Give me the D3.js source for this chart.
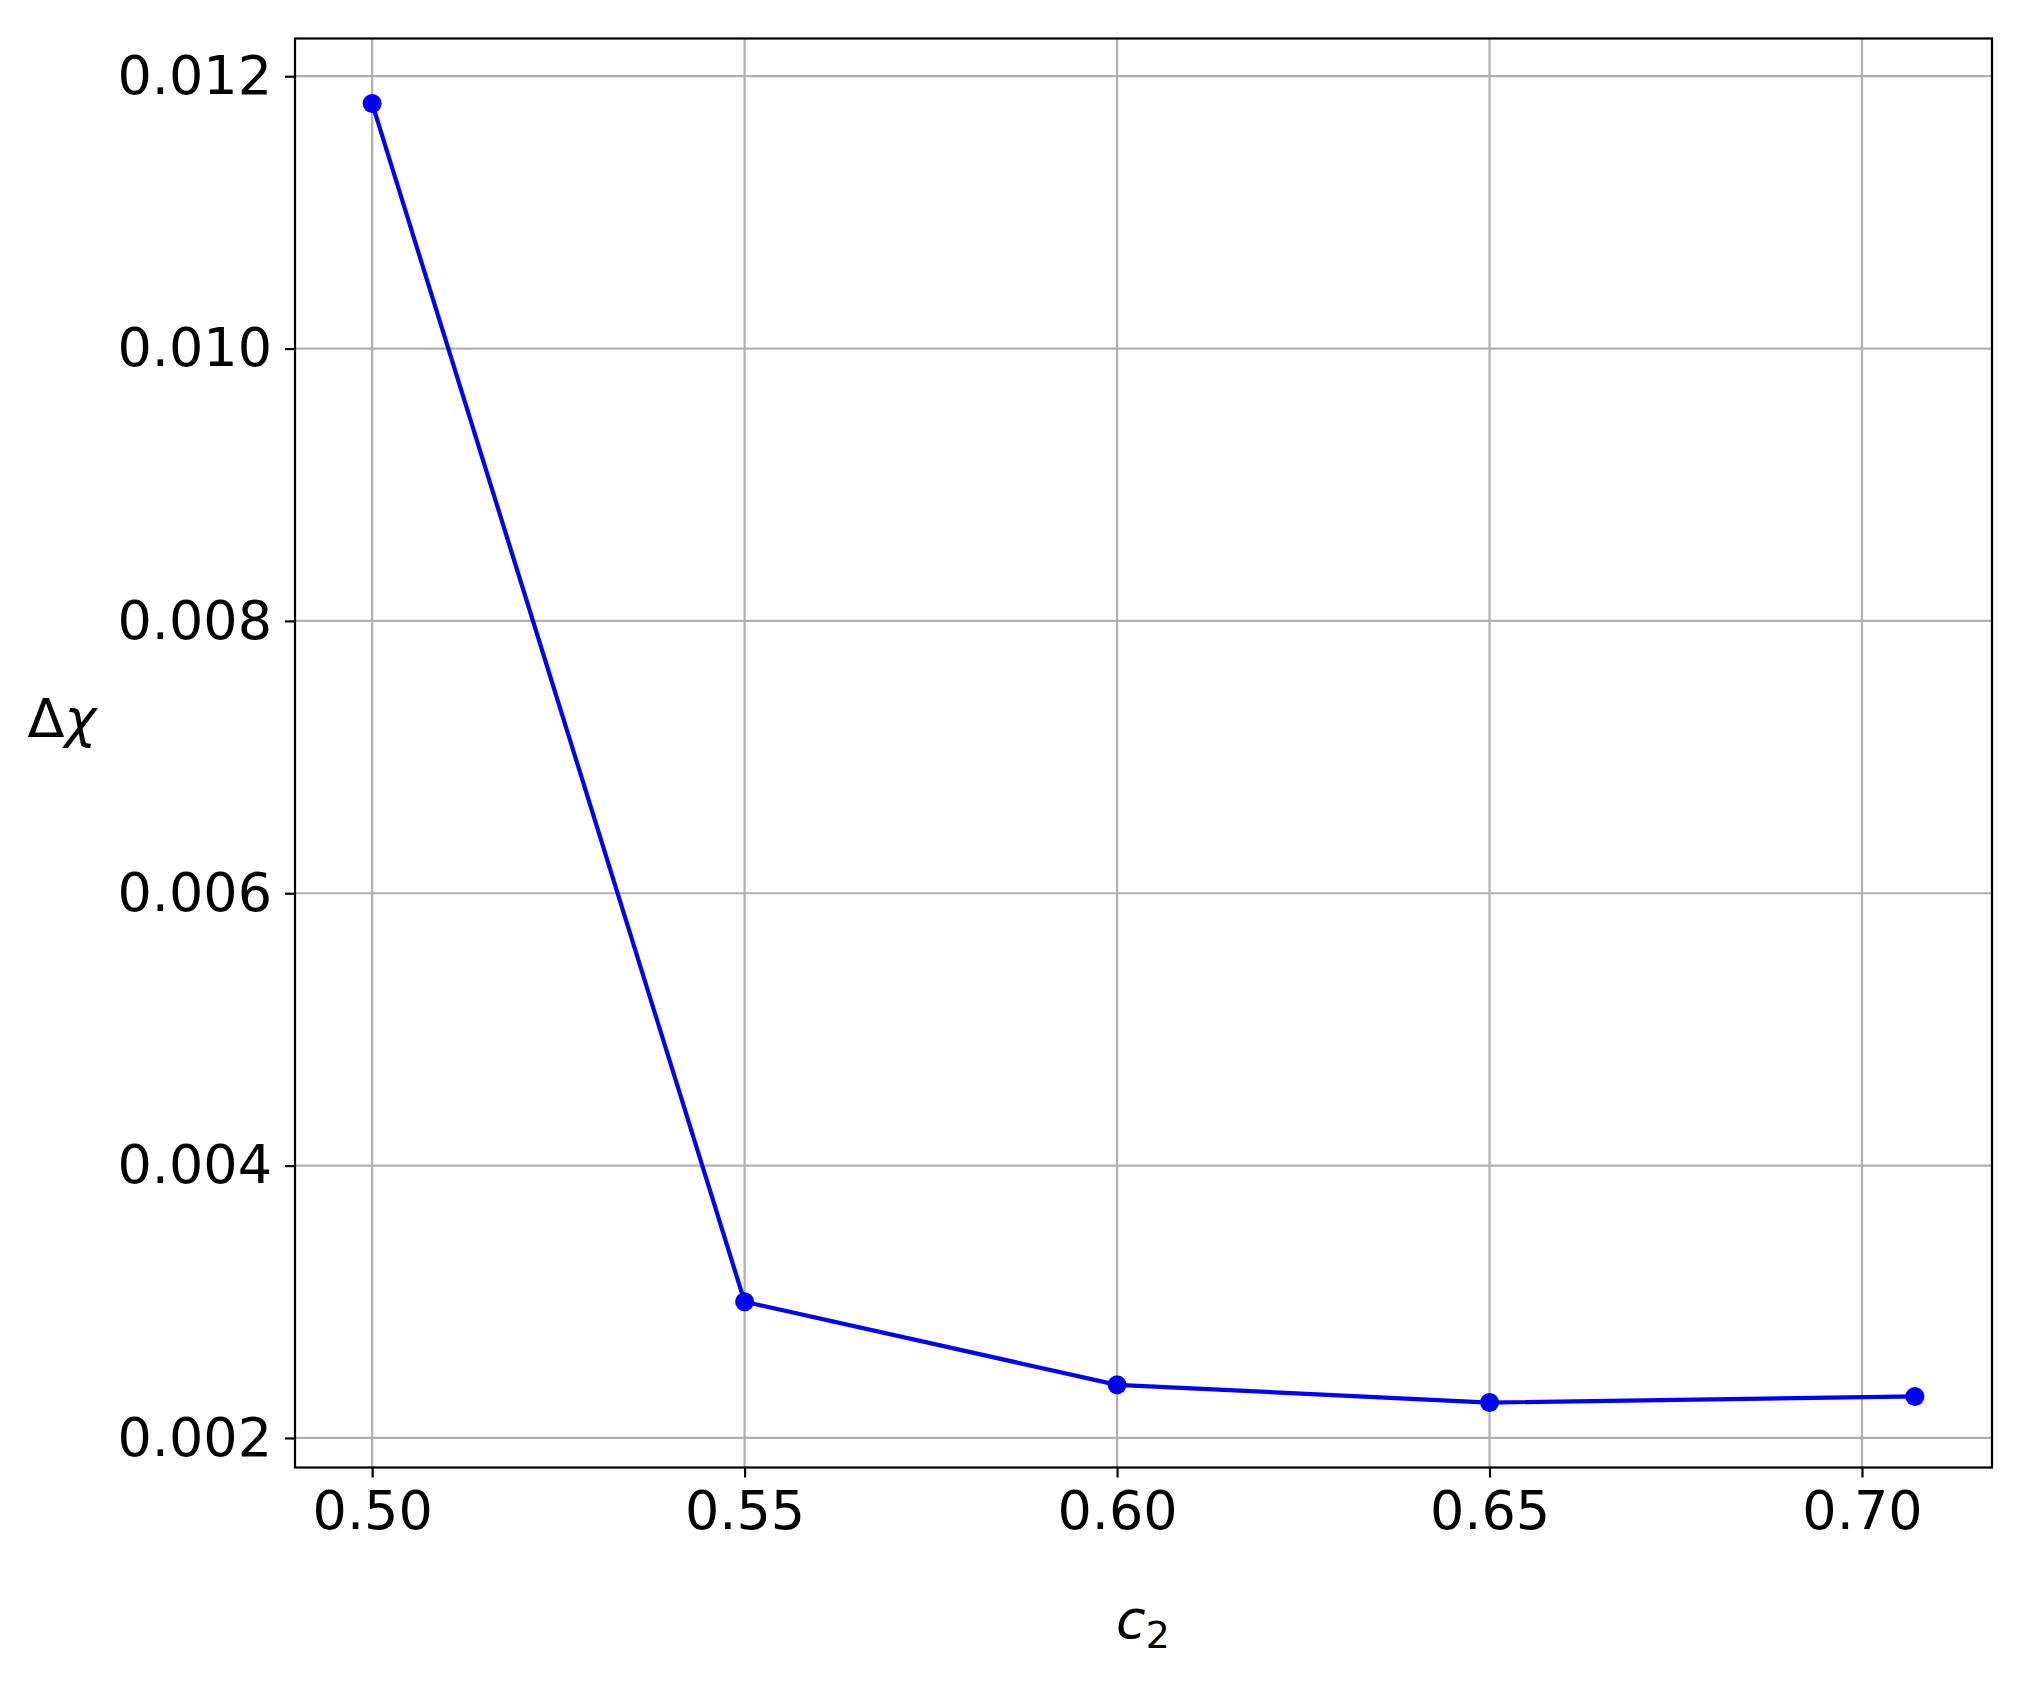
<!DOCTYPE html>
<html>
<head>
<meta charset="utf-8">
<script src="https://cdn.jsdelivr.net/npm/d3@7"></script>
<style>
  html, body { margin: 0; padding: 0; background: #fff; }
  svg { display: block; }
  text { font-family: "DejaVu Sans", sans-serif; }
</style>
</head>
<body>
<svg id="chart" width="2026" height="1684"></svg>
<script>
const c2Values = [0.5, 0.55, 0.6, 0.65, 0.7071];
const deltaChi = [0.0118, 0.003, 0.00239, 0.00226, 0.002305];
const xTicks = [0.50, 0.55, 0.60, 0.65, 0.70];
const yTicks = [0.002, 0.004, 0.006, 0.008, 0.010, 0.012];

const W = 2026, H = 1684;
const m = { left: 295, right: 1992, top: 38.5, bottom: 1467.5 };
const fs = 54;

const svg = d3.select("#chart");

const xMin = d3.min(c2Values), xMax = d3.max(c2Values);
const xPad = (xMax - xMin) * 0.05;
const yMin = d3.min(deltaChi), yMax = d3.max(deltaChi);
const yPad = (yMax - yMin) * 0.05;

const x = d3.scaleLinear().domain([xMin - xPad, xMax + xPad]).range([m.left, m.right]);
const y = d3.scaleLinear().domain([yMin - yPad, yMax + yPad]).range([m.bottom, m.top]);

// grid
const grid = svg.append("g");
grid.selectAll("line.gx").data(xTicks).join("line")
  .attr("x1", d => x(d)).attr("x2", d => x(d))
  .attr("y1", m.top).attr("y2", m.bottom)
  .attr("stroke", "#b0b0b0").attr("stroke-width", 2.2);
grid.selectAll("line.gy").data(yTicks).join("line")
  .attr("x1", m.left).attr("x2", m.right)
  .attr("y1", d => y(d)).attr("y2", d => y(d))
  .attr("stroke", "#b0b0b0").attr("stroke-width", 2.2);

// axes
const xAxis = d3.axisBottom(x).tickValues(xTicks).tickFormat(d3.format(".2f"))
  .tickSizeInner(10).tickSizeOuter(0).tickPadding(13);
const yAxis = d3.axisLeft(y).tickValues(yTicks).tickFormat(d3.format(".3f"))
  .tickSizeInner(10).tickSizeOuter(0).tickPadding(13);

const gx = svg.append("g").attr("transform", `translate(0,${m.bottom})`).call(xAxis);
const gy = svg.append("g").attr("transform", `translate(${m.left},0)`).call(yAxis);
[gx, gy].forEach(g => {
  g.select(".domain").remove();
  g.selectAll(".tick line").attr("stroke", "#000").attr("stroke-width", 2.2);
  g.selectAll(".tick text").attr("fill", "#000")
    .style("font-family", "DejaVu Sans").style("font-size", fs + "px");
});
gx.selectAll(".tick text").attr("dy", "0.71em");

// line
const line = d3.line().x((d, i) => x(c2Values[i])).y(d => y(d));
svg.append("path").datum(deltaChi)
  .attr("d", line).attr("fill", "none")
  .attr("stroke", "#0000ff").attr("stroke-width", 4.2)
  .attr("stroke-linejoin", "round").attr("stroke-linecap", "square");

svg.selectAll("circle.pt").data(deltaChi).join("circle")
  .attr("cx", (d, i) => x(c2Values[i])).attr("cy", d => y(d))
  .attr("r", 9.5).attr("fill", "#0000ff");

// frame
svg.append("rect")
  .attr("x", m.left).attr("y", m.top)
  .attr("width", m.right - m.left).attr("height", m.bottom - m.top)
  .attr("fill", "none").attr("stroke", "#000").attr("stroke-width", 2.2);

// labels
const xl = svg.append("text")
  .attr("x", 1143).attr("y", 1638)
  .attr("text-anchor", "middle")
  .style("font-size", fs + "px");
xl.append("tspan").attr("font-style", "italic").text("c");
xl.append("tspan").attr("dy", 10).style("font-size", (fs * 0.7) + "px").text("2");

const yl = svg.append("text")
  .attr("x", 62).attr("y", 737)
  .attr("text-anchor", "middle")
  .style("font-size", fs + "px");
yl.append("tspan").text("Δ");
yl.append("tspan").attr("font-style", "italic").text("χ");
</script>
</body>
</html>
